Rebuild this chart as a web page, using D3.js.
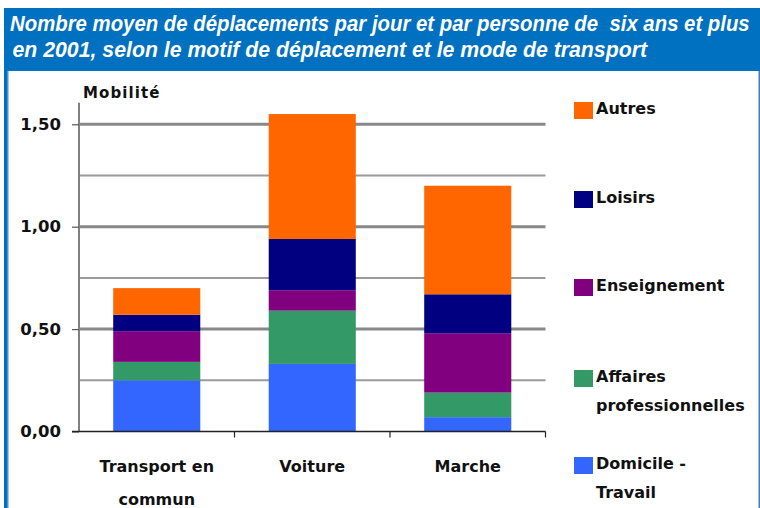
<!DOCTYPE html>
<html>
<head>
<meta charset="utf-8">
<script src="https://cdn.jsdelivr.net/npm/d3@7"></script>
<style>
  html, body { margin: 0; padding: 0; background: #ffffff; }
  svg { display: block; }
</style>
</head>
<body>
<svg id="chart" width="760" height="508"></svg>
<script>
// ---- Data ----
const categories = ["Transport en commun", "Voiture", "Marche"];
const categoryLabelLines = [["Transport en", "commun"], ["Voiture"], ["Marche"]];
const seriesNames = ["Domicile - Travail", "Affaires professionnelles", "Enseignement", "Loisirs", "Autres"];
const domicileTravail = [0.25, 0.33, 0.07];
const affairesPro = [0.09, 0.26, 0.12];
const enseignement = [0.15, 0.10, 0.29];
const loisirs = [0.08, 0.25, 0.19];
const autres = [0.13, 0.61, 0.53];
const majorTicks = [0, 0.5, 1.0, 1.5];
const majorTickLabels = ["0,00", "0,50", "1,00", "1,50"];
const minorTicks = [0.25, 0.75, 1.25];
const legendLabelLines = [["Autres"], ["Loisirs"], ["Enseignement"], ["Affaires", "professionnelles"], ["Domicile -", "Travail"]];
const titleLines = [
  "Nombre moyen de déplacements par jour et par personne de  six ans et plus",
  "en 2001, selon le motif de déplacement et le mode de transport"
];
const yAxisTitle = "Mobilité";

const seriesValues = [domicileTravail, affairesPro, enseignement, loisirs, autres];
const colors = ["#3366FF", "#339966", "#800080", "#000080", "#FF6600"];

const table = categories.map((c, i) => {
  const row = { category: c };
  seriesNames.forEach((s, j) => row[s] = seriesValues[j][i]);
  return row;
});

const svg = d3.select("#chart");
const font = "'DejaVu Sans', Verdana, sans-serif";

// ---- Frame & title band ----
svg.append("rect").attr("x", 4).attr("y", 8).attr("width", 756).attr("height", 63).attr("fill", "#0070C0");
svg.append("rect").attr("x", 4).attr("y", 8).attr("width", 3).attr("height", 500).attr("fill", "#0070C0");
svg.append("rect").attr("x", 7).attr("y", 71).attr("width", 1.5).attr("height", 437).attr("fill", "#4a93d6");
svg.append("rect").attr("x", 758.5).attr("y", 71).attr("width", 1.5).attr("height", 437).attr("fill", "#3f7fc4");

const titleX = [10, 12.5];
const titleY = [30.7, 57.3];
const titleLen = [740, 635];
titleLines.forEach((t, i) => {
  const txt = svg.append("text")
    .attr("x", 0).attr("y", 0)
    .attr("fill", "#ffffff")
    .attr("font-family", "'Liberation Sans Narrow', 'Arial Narrow', 'Liberation Sans', Arial, sans-serif")
    .attr("font-style", "italic").attr("font-weight", "bold")
    .attr("font-size", 22)
    .style("white-space", "pre")
    .text(t);
  const natural = txt.node().getComputedTextLength();
  const sx = titleLen[i] / natural;
  txt.attr("transform", `translate(${titleX[i]},${titleY[i]}) scale(${sx},1)`);
});

// ---- Scales ----
const x0 = 79, x1 = 545.5, yBase = 431.5, yTop = 103.8;
const x = d3.scaleBand().domain(categories).range([x0, x1]).paddingInner(0.44).paddingOuter(0.22);
const xCat = d3.scaleBand().domain(categories).range([x0, x1]).padding(0);
const y = d3.scaleLinear().domain([0, 1.6]).range([yBase, yTop]);

// ---- Gridlines ----
const g = svg.append("g");
g.selectAll("line.minor").data(minorTicks).join("line")
  .attr("x1", x0).attr("x2", x1)
  .attr("y1", d => y(d)).attr("y2", d => y(d))
  .attr("stroke", "#9a9a9a").attr("stroke-width", 2);
g.selectAll("line.major").data(majorTicks.filter(d => d > 0)).join("line")
  .attr("x1", x0).attr("x2", x1)
  .attr("y1", d => y(d)).attr("y2", d => y(d))
  .attr("stroke", "#888888").attr("stroke-width", 3);

// ---- Bars ----
const stack = d3.stack().keys(seriesNames);
const stacked = stack(table);
svg.append("g").selectAll("g").data(stacked).join("g")
  .attr("fill", (d, i) => colors[i])
  .selectAll("rect").data(d => d).join("rect")
  .attr("x", d => x(d.data.category))
  .attr("width", x.bandwidth())
  .attr("y", d => y(d[1]))
  .attr("height", d => y(d[0]) - y(d[1]));

// ---- Y axis ----
const yAxis = d3.axisLeft(y).tickValues(majorTicks)
  .tickFormat((d, i) => majorTickLabels[i]).tickSize(7).tickPadding(11);
const ya = svg.append("g").attr("transform", `translate(${x0},0)`).call(yAxis);
ya.select(".domain").attr("stroke", "#808080").attr("stroke-width", 2)
  .attr("d", `M0,${yTop - 1}V${yBase}`);
ya.selectAll(".tick line").attr("stroke", "#555555").attr("stroke-width", 1.2);
ya.selectAll(".tick text")
  .attr("font-family", font).attr("font-weight", "bold").attr("font-size", 16.5)
  .attr("fill", "#111111").attr("dy", "0.3em");

// ---- X axis ----
const xAxisG = svg.append("g").attr("transform", `translate(0,${yBase})`);
xAxisG.append("line").attr("x1", x0 - 7).attr("x2", x1).attr("y1", 0).attr("y2", 0)
  .attr("stroke", "#222222").attr("stroke-width", 1.5);
xAxisG.selectAll("line.tk").data(categories).join("line")
  .attr("x1", d => xCat(d) + xCat.bandwidth()).attr("x2", d => xCat(d) + xCat.bandwidth())
  .attr("y1", 0).attr("y2", 6)
  .attr("stroke", "#222222").attr("stroke-width", 1.2);
categories.forEach((c, i) => {
  const t = svg.append("text")
    .attr("font-family", font).attr("font-weight", "bold").attr("font-size", 16)
    .attr("fill", "#111111").attr("text-anchor", "middle");
  categoryLabelLines[i].forEach((line, k) => {
    t.append("tspan").attr("x", x(c) + x.bandwidth() / 2).attr("y", 472 + k * 33).text(line);
  });
});

// ---- Y axis title ----
svg.append("text").attr("x", 83).attr("y", 98)
  .attr("font-family", font).attr("font-weight", "bold").attr("font-size", 15)
  .attr("letter-spacing", 1.1).attr("fill", "#111111").text(yAxisTitle);

// ---- Legend ----
const legendTops = [102, 191, 279, 370, 457];
const legendColors = colors.slice().reverse();
legendLabelLines.forEach((lines, i) => {
  svg.append("rect").attr("x", 574).attr("y", legendTops[i]).attr("width", 19).attr("height", 17)
    .attr("fill", legendColors[i]);
  const t = svg.append("text").attr("font-family", font).attr("font-weight", "bold")
    .attr("font-size", 16).attr("fill", "#111111");
  lines.forEach((line, k) => {
    t.append("tspan").attr("x", 596).attr("y", legendTops[i] + 12 + k * 28.5).text(line);
  });
});
</script>
</body>
</html>
